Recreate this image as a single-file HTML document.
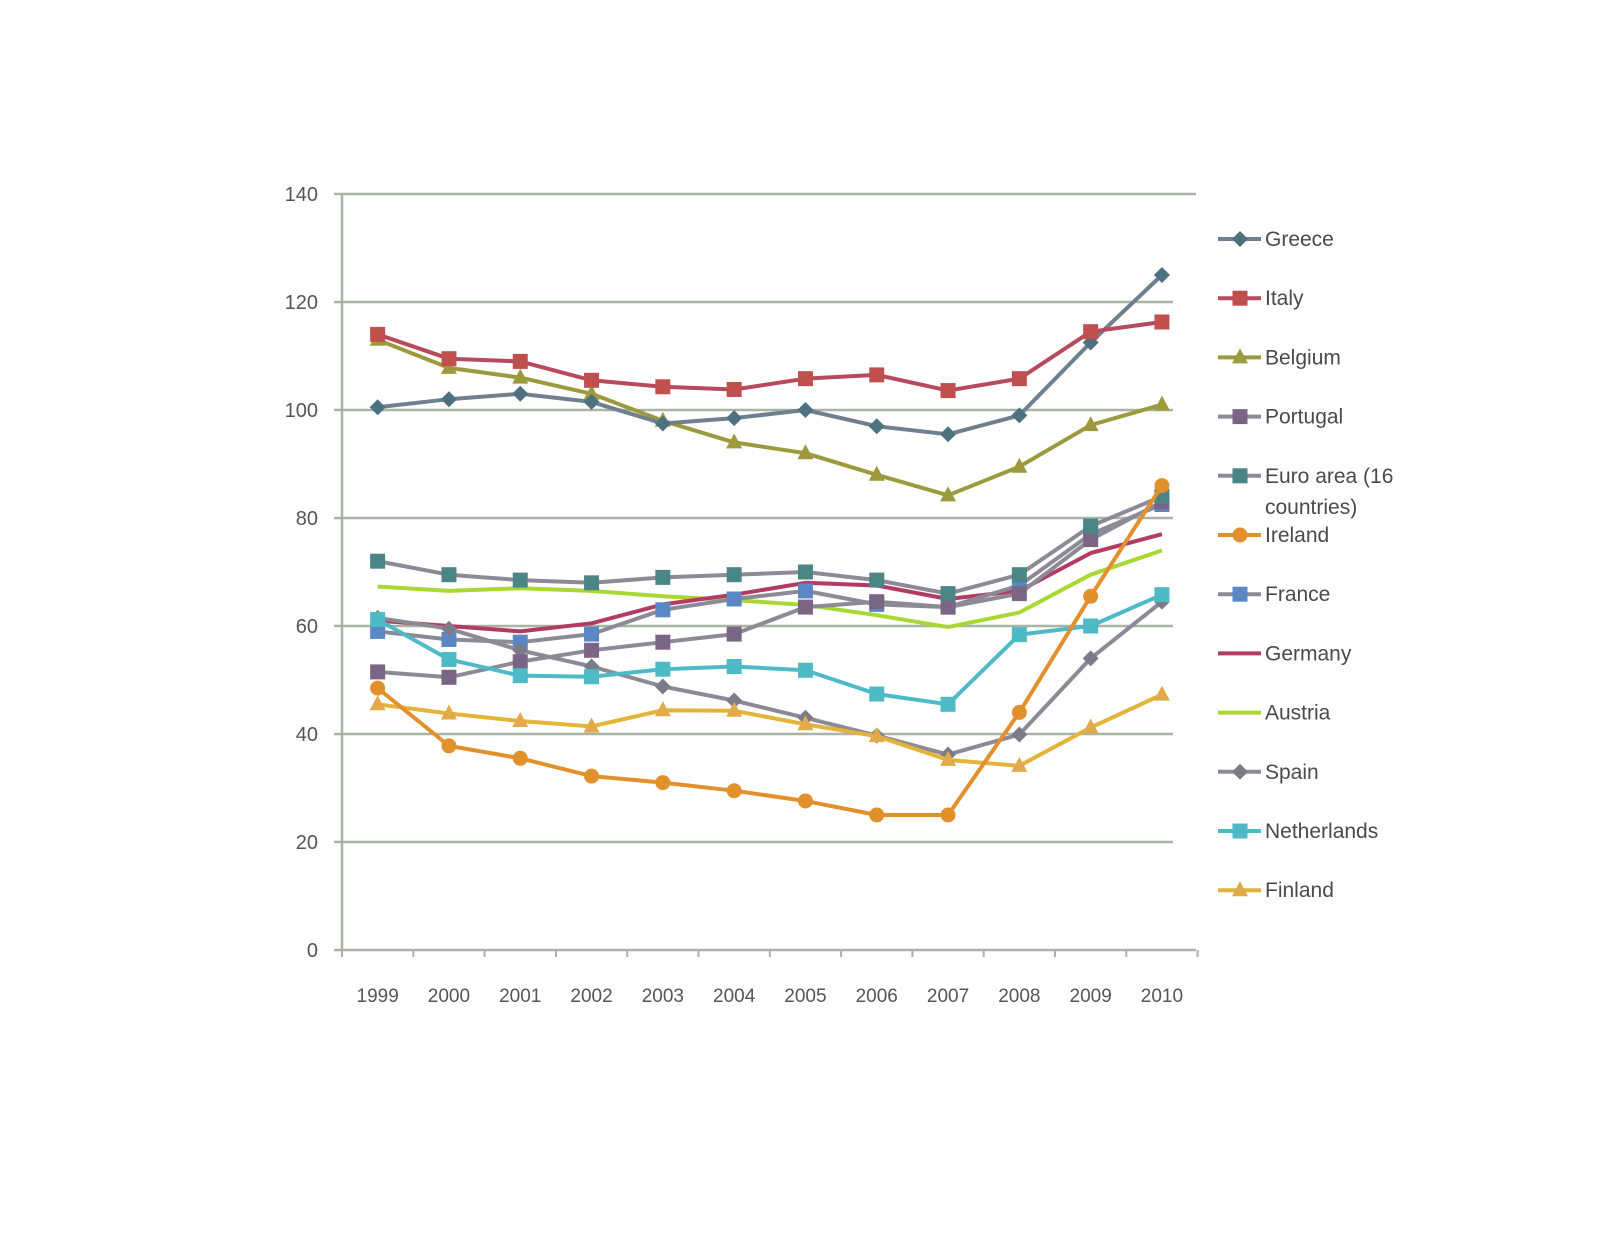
<!DOCTYPE html>
<html><head><meta charset="utf-8"><style>
html,body{margin:0;padding:0;background:#fff;}
svg{display:block;font-family:"Liberation Sans",sans-serif;}
</style></head><body>
<svg id="chart" width="1600" height="1236" viewBox="0 0 1600 1236" xmlns="http://www.w3.org/2000/svg">
<g id="grid"></g>
<g id="axes"></g>
<g id="series"></g>
<g id="legend"></g>
</svg>
<script>
const years = ["1999","2000","2001","2002","2003","2004","2005","2006","2007","2008","2009","2010"];
const yTicks = [0,20,40,60,80,100,120,140];
const greece = [100.5,102,103,101.5,97.5,98.5,100,97,95.5,99,112.5,125];
const italy = [114,109.5,109,105.5,104.3,103.8,105.8,106.5,103.6,105.8,114.5,116.3];
const belgium = [113,107.8,106,103,98,94,92,88,84.2,89.5,97.2,101];
const portugal = [51.5,50.5,53.4,55.5,57,58.5,63.5,64.5,63.5,66,76,83];
const euroArea = [72,69.5,68.5,68,69,69.5,70,68.5,66,69.5,78.5,84];
const ireland = [48.5,37.8,35.5,32.2,31,29.5,27.6,25,25,44,65.5,86];
const france = [59,57.5,57,58.5,63,65,66.5,64,63.5,67.5,77,82.5];
const germany = [61,60,59,60.5,64,65.8,68,67.5,65,66.5,73.5,77];
const austria = [67.3,66.5,67,66.5,65.5,64.8,63.9,62,59.8,62.5,69.5,74];
const spain = [61.5,59.5,55.5,52.5,48.8,46.2,43,39.7,36.2,39.9,54,64.5];
const netherlands = [61.2,53.8,50.8,50.6,52,52.5,51.8,47.4,45.5,58.4,60,65.8];
const finland = [45.5,43.8,42.4,41.4,44.4,44.3,41.8,39.6,35.2,34.1,41.2,47.3];

const NS="http://www.w3.org/2000/svg";
const x0=342, stepX=71.3, yBase=950, pxPerUnit=5.4;
function xs(i){return x0+stepX*(i+0.5);}
function ys(v){return yBase-v*pxPerUnit;}
function mk(tag,attrs,parent){const e=document.createElementNS(NS,tag);for(const k in attrs)e.setAttribute(k,attrs[k]);parent.appendChild(e);return e;}

const grid=document.getElementById('grid'), axes=document.getElementById('axes');
yTicks.forEach(t=>{
  const y=ys(t);
  if(t>0){const l=mk('line',{x1:334,x2:t===140?1196:1173,y1:y,y2:y,stroke:'#a9b3a6','stroke-width':2.5},grid);
  
  }
  const tk=mk('line',{x1:334,x2:342,y1:y,y2:y,stroke:'#a9b3a6','stroke-width':2},axes);
  
  
  const tx=mk('text',{x:318,y:y+7,'text-anchor':'end','font-size':20,fill:'#555'},axes);
  tx.textContent=t;
  
  
});
const ya=mk('line',{x1:342,x2:342,y1:ys(140),y2:yBase,stroke:'#a9b3a6','stroke-width':2.5},axes);


const xa=mk('line',{x1:334,x2:1196,y1:yBase,y2:yBase,stroke:'#a9b3a6','stroke-width':2.5},axes);


for(let i=0;i<=years.length;i++){
  const tk=mk('line',{x1:x0+stepX*i,x2:x0+stepX*i,y1:yBase,y2:yBase+7,stroke:'#a9b3a6','stroke-width':2},axes);
  
  
}
years.forEach((yr,i)=>{
  const tx=mk('text',{x:xs(i),y:1002,'text-anchor':'middle','font-size':19,fill:'#555'},axes);
  tx.textContent=yr;
  
  
});

const seriesDefs=[
 {name:'Greece',data:greece,line:'#6f7f8e',mc:'#4e7180',m:'diamond'},
 {name:'Italy',data:italy,line:'#b84a5e',mc:'#c0504d',m:'square'},
 {name:'Belgium',data:belgium,line:'#9c9a3c',mc:'#9c9a3c',m:'triangle'},
 {name:'Portugal',data:portugal,line:'#8c8a96',mc:'#7b6585',m:'square'},
 {name:'Euro area (16|countries)',data:euroArea,line:'#8c8a96',mc:'#4b8585',m:'square'},
 {name:'Ireland',data:ireland,line:'#e2902c',mc:'#e2902c',m:'circle'},
 {name:'France',data:france,line:'#8c8a96',mc:'#5b87c4',m:'square'},
 {name:'Germany',data:germany,line:'#b33a62',mc:null,m:null},
 {name:'Austria',data:austria,line:'#a9d833',mc:null,m:null},
 {name:'Spain',data:spain,line:'#8c8a96',mc:'#7c7c88',m:'diamond'},
 {name:'Netherlands',data:netherlands,line:'#4dbac6',mc:'#4dbac6',m:'square'},
 {name:'Finland',data:finland,line:'#e3b33a',mc:'#e3aa4a',m:'triangle'}
];
function marker(type,x,y,c,parent){
  let e;
  if(type==='square')e=mk('rect',{x:x-7.5,y:y-7.5,width:15,height:15,fill:c},parent);
  else if(type==='diamond')e=mk('polygon',{points:`${x},${y-8} ${x+8},${y} ${x},${y+8} ${x-8},${y}`,fill:c},parent);
  else if(type==='triangle')e=mk('polygon',{points:`${x},${y-9} ${x+8},${y+6} ${x-8},${y+6}`,fill:c},parent);
  else if(type==='circle')e=mk('circle',{cx:x,cy:y,r:7.5,fill:c},parent);
  return e;
}
const sg=document.getElementById('series'), lg=document.getElementById('legend');
const order=[8,7,6,9,3,4,10,11,5,2,0,1];
order.forEach(si=>{
  const s=seriesDefs[si];
  const g=mk('g',{},sg);
  
  
  const pts=s.data.map((v,i)=>xs(i)+','+ys(v)).join(' ');
  mk('polyline',{points:pts,fill:'none',stroke:s.line,'stroke-width':4,'stroke-linejoin':'round'},g);
  if(s.m)s.data.forEach((v,i)=>{
    const e=marker(s.m,xs(i),ys(v),s.mc,g);
    
    
  });
});
seriesDefs.forEach((s,i)=>{
  const y=239+59.2*i;
  const g=mk('g',{},lg);
  
  
  mk('line',{x1:1218,x2:1261,y1:y,y2:y,stroke:s.line,'stroke-width':4},g);
  if(s.m)marker(s.m,1240,y,s.mc,g);
  const parts=s.name.split('|');
  const t=mk('text',{x:1265,y:y+7,'font-size':21,fill:'#4a4a4a'},g);
  t.textContent=parts[0];
  if(parts[1]){const t2=mk('text',{x:1265,y:y+38,'font-size':21,fill:'#4a4a4a'},g);t2.textContent=parts[1];}
});
</script>
</body></html>
